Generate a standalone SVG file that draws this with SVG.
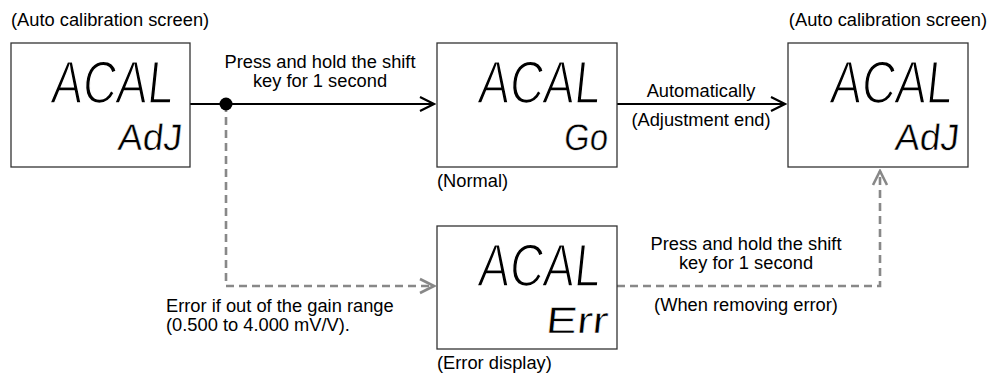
<svg xmlns="http://www.w3.org/2000/svg" width="990" height="376" viewBox="0 0 990 376">
<style>
.lbl{font-family:"Liberation Sans",Arial,sans-serif;font-size:18.3px;fill:#000}
.box{fill:#fff;stroke:#333;stroke-width:1.3}
.seg{font-family:"Liberation Sans",Arial,sans-serif;fill:#000;stroke:#fff;stroke-width:1.6}
.big{font-size:60px}
.small{font-size:37px;stroke-width:0.5}
.solid{fill:none;stroke:#000;stroke-width:2}
.dash{fill:none;stroke:#888;stroke-width:2.6;stroke-dasharray:8 5}
</style>
<defs>
<marker id="ab" viewBox="-16 -9 18 18" refX="0" refY="0" markerWidth="18" markerHeight="18" markerUnits="userSpaceOnUse" orient="auto">
<path d="M-14,-7 L0,0 L-14,7" fill="none" stroke="#000" stroke-width="2.2"/>
</marker>
<marker id="ag" viewBox="-16 -9 18 18" refX="0" refY="0" markerWidth="18" markerHeight="18" markerUnits="userSpaceOnUse" orient="auto">
<path d="M-14,-7 L0,0 L-14,7" fill="none" stroke="#888" stroke-width="2.6"/>
</marker>
</defs>
<rect width="990" height="376" fill="#fff"/>

<g id="connectors">
<path class="dash" d="M226,104 V286 H434" marker-end="url(#ag)"/>
<path class="dash" d="M617,286 H880 V171" marker-end="url(#ag)"/>
<path class="solid" d="M190,104 H434" marker-end="url(#ab)"/>
<circle cx="226" cy="104" r="6.5" fill="#000"/>
<path class="solid" d="M617,104 H785" marker-end="url(#ab)"/>
<text class="lbl" x="320" y="68" text-anchor="middle">Press and hold the shift</text>
<text class="lbl" x="320" y="87" text-anchor="middle">key for 1 second</text>
<text class="lbl" x="701" y="97" text-anchor="middle">Automatically</text>
<text class="lbl" x="701" y="126" text-anchor="middle">(Adjustment end)</text>
<text class="lbl" x="166" y="312">Error if out of the gain range</text>
<text class="lbl" x="166" y="331">(0.500 to 4.000 mV/V).</text>
<text class="lbl" x="746" y="250" text-anchor="middle">Press and hold the shift</text>
<text class="lbl" x="746" y="269" text-anchor="middle">key for 1 second</text>
<text class="lbl" x="746" y="311" text-anchor="middle">(When removing error)</text>
</g>

<g id="node-start">
<text class="lbl" x="11" y="26">(Auto calibration screen)</text>
<rect class="box" x="11" y="43" width="179" height="124"/>
<text class="seg big" transform="translate(50,103) skewX(-6)" textLength="122" lengthAdjust="spacingAndGlyphs">ACAL</text>
<text class="seg small" transform="translate(117,150) skewX(-6)" textLength="64" lengthAdjust="spacingAndGlyphs">AdJ</text>
</g>

<g id="node-normal">
<rect class="box" x="437" y="43" width="180" height="124"/>
<text class="seg big" transform="translate(477,103) skewX(-6)" textLength="122" lengthAdjust="spacingAndGlyphs">ACAL</text>
<text class="seg small" transform="translate(563,150) skewX(-6)" textLength="44" lengthAdjust="spacingAndGlyphs">Go</text>
<text class="lbl" x="437" y="187">(Normal)</text>
</g>

<g id="node-end">
<text class="lbl" x="987" y="26" text-anchor="end">(Auto calibration screen)</text>
<rect class="box" x="788" y="43" width="180" height="124"/>
<text class="seg big" transform="translate(829,103) skewX(-6)" textLength="122" lengthAdjust="spacingAndGlyphs">ACAL</text>
<text class="seg small" transform="translate(894,150) skewX(-6)" textLength="64" lengthAdjust="spacingAndGlyphs">AdJ</text>
</g>

<g id="node-error">
<rect class="box" x="437" y="226" width="180" height="123"/>
<text class="seg big" transform="translate(477,286) skewX(-6)" textLength="122" lengthAdjust="spacingAndGlyphs">ACAL</text>
<text class="seg small" transform="translate(545,333) skewX(-6)" textLength="62" lengthAdjust="spacingAndGlyphs">Err</text>
<text class="lbl" x="437" y="369">(Error display)</text>
</g>
</svg>
